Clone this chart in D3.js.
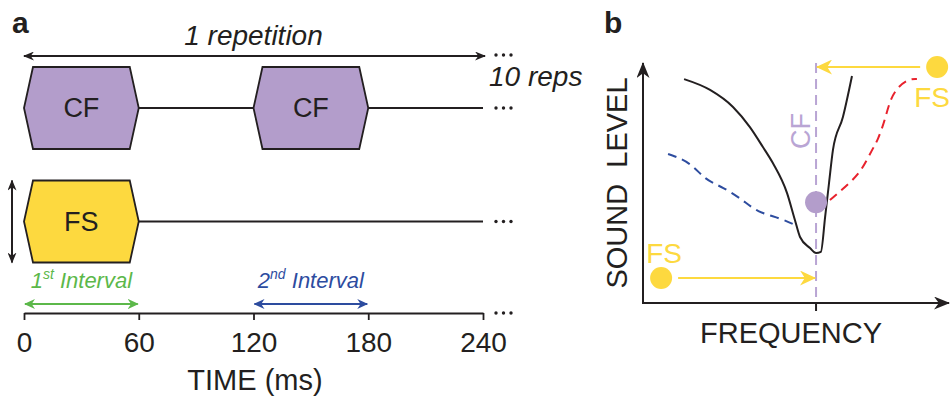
<!DOCTYPE html>
<html>
<head>
<meta charset="utf-8">
<script src="https://cdn.jsdelivr.net/npm/d3@7"></script>
<style>
    body { margin: 0; background: #fff; }
    text { font-family: "Liberation Sans", Arial, sans-serif; fill: #231f20; }
</style>
</head>
<body>
<svg id="chart" width="950" height="405"></svg>
<script>
// panel a: stimulus timing (ms)
let timeTicks = [0, 60, 120, 180, 240];
let cfOnsets = [0, 120];
let fsOnsets = [0];
let toneDuration = 60;
let repetitionSpan = [0, 240];
let intervals = [
    {num: "1", sup: "st", start: 0, end: 60},
    {num: "2", sup: "nd", start: 120, end: 180},
];

// panel b: frequency / sound level, arbitrary units 0-100
let cfFreq = 57.3;
let cfLevel = 42;
let tuningFreq = [13.6, 22.2, 29.8, 35.4, 39.7, 43.0, 47.7, 50.3, 52.0, 55.3, 57.3, 58.9, 60.3, 61.6, 62.9, 66.2, 69.2];
let tuningLevel = [93.3, 88.8, 81.7, 73.3, 65.0, 58.3, 45.8, 34.6, 27.5, 22.9, 20.8, 21.3, 35.8, 50.0, 63.8, 77.5, 94.6];
let lowSideFreq = [8.3, 15.6, 20.5, 26.5, 33.1, 37.7, 45.4, 51.0];
let lowSideLevel = [62.1, 58.8, 51.3, 48.3, 42.9, 37.9, 35.4, 32.1];
let highSideFreq = [61.9, 68.5, 72.5, 75.8, 77.8, 80.1, 81.8, 84.1, 87.7, 90.7];
let highSideLevel = [42.9, 50.0, 55.4, 63.8, 67.9, 76.3, 84.6, 89.6, 93.3, 93.3];
let fsFreq = [97.4, 6.0];
let fsLevel = [98.3, 10.4];

const colors = {
    ink: "#231f20",
    cf: "#b39dcb",
    cfLine: "#b9a5d4",
    fs: "#fdd93f",
    first: "#5cb84a",
    second: "#2d4c9f",
    red: "#e8222d",
};

let svg = d3.select("#chart");
let defs = svg.append("defs");

function marker(id, color, len, wid) {
    defs.append("marker")
        .attr("id", id)
        .attr("viewBox", "0 0 " + len + " " + wid)
        .attr("markerUnits", "userSpaceOnUse")
        .attr("markerWidth", len)
        .attr("markerHeight", wid)
        .attr("refX", len - 1)
        .attr("refY", wid / 2)
        .attr("orient", "auto-start-reverse")
        .append("path")
        .attr("d", "M0,0 L" + len + "," + wid / 2 + " L0," + wid + " L" + len * 0.3 + "," + wid / 2 + " Z")
        .attr("fill", color);
}
marker("arrSmall", colors.ink, 11, 9);
marker("arrGreen", colors.first, 11, 10);
marker("arrBlue", colors.second, 11, 10);
marker("arrAxis", colors.ink, 16, 13);
marker("arrYellow", colors.fs, 16, 15);

function arrow(g, x1, y1, x2, y2, color, id, both) {
    let l = g.append("line")
        .attr("x1", x1).attr("y1", y1)
        .attr("x2", x2).attr("y2", y2)
        .attr("stroke", color)
        .attr("stroke-width", 2)
        .attr("marker-end", "url(#" + id + ")");
    if (both) l.attr("marker-start", "url(#" + id + ")");
    return l;
}

// the "..." continuation marks, drawn as three small dots
function dots(g, x, y) {
    g.append("g").selectAll("circle")
        .data([0, 1, 2])
        .enter().append("circle")
        .attr("cx", d => x + d * 7.5)
        .attr("cy", y)
        .attr("r", 1.7)
        .attr("fill", colors.ink);
}

// ---------- panel a ----------
let a = svg.append("g");
let x = d3.scaleLinear().domain([0, 240]).range([24, 483]);
let rows = {rep: 56, CF: 108, FS: 221.5, interval: 304, axis: 313};
let halfH = 41;
let inset = 9;

a.append("text").attr("x", 12).attr("y", 33)
    .attr("font-size", 30).attr("font-weight", "bold").text("a");

arrow(a, x(repetitionSpan[0]), rows.rep, x(repetitionSpan[1]) + 2, rows.rep, colors.ink, "arrSmall", true);
a.append("text").attr("x", (x(0) + x(240)) / 2).attr("y", 45)
    .attr("text-anchor", "middle").attr("font-size", 28).attr("font-style", "italic")
    .text("1 repetition");
dots(a, 496, rows.rep - 1);
a.append("text").attr("x", 489).attr("y", 86)
    .attr("font-size", 28).attr("font-style", "italic").text("10 reps");

function hexagon(t, cy) {
    let x0 = x(t), x1 = x(t + toneDuration);
    return [[x0, cy], [x0 + inset, cy - halfH], [x1 - inset, cy - halfH],
            [x1, cy], [x1 - inset, cy + halfH], [x0 + inset, cy + halfH]];
}

let toneRows = [
    {name: "CF", onsets: cfOnsets, fill: colors.cf},
    {name: "FS", onsets: fsOnsets, fill: colors.fs},
];

for (let row of toneRows) {
    let cy = rows[row.name];
    a.append("line")
        .attr("x1", x(0)).attr("x2", x(240))
        .attr("y1", cy).attr("y2", cy)
        .attr("stroke", colors.ink).attr("stroke-width", 1.8);
    dots(a, 496, cy);

    let tones = a.selectAll("g.tone-" + row.name)
        .data(row.onsets)
        .enter().append("g");
    tones.append("polygon")
        .attr("points", d => hexagon(d, cy).join(" "))
        .attr("fill", row.fill)
        .attr("stroke", colors.ink)
        .attr("stroke-width", 1.8);
    tones.append("text")
        .attr("x", d => x(d + toneDuration / 2))
        .attr("y", cy + 9)
        .attr("text-anchor", "middle")
        .attr("font-size", 27)
        .text(row.name);
}

// level arrow beside FS tone
arrow(a, 12, rows.FS - halfH, 12, rows.FS + halfH, colors.ink, "arrSmall", true);

// intervals
let ivColors = [colors.first, colors.second];
let ivMarkers = ["arrGreen", "arrBlue"];
intervals.forEach((iv, i) => {
    arrow(a, x(iv.start) + 1, rows.interval, x(iv.end) - 1, rows.interval, ivColors[i], ivMarkers[i], true);
    let t = a.append("text")
        .attr("x", (x(iv.start) + x(iv.end)) / 2)
        .attr("y", 288)
        .attr("text-anchor", "middle")
        .attr("font-size", 22)
        .attr("font-style", "italic")
        .style("fill", ivColors[i]);
    t.append("tspan").text(iv.num);
    t.append("tspan").attr("dy", -9).attr("font-size", 14).text(iv.sup);
    t.append("tspan").attr("dy", 9).text(" Interval");
});

// time axis
let axis = a.append("g")
    .attr("transform", "translate(0," + rows.axis + ")")
    .call(d3.axisBottom(x).tickValues(timeTicks).tickSize(7).tickSizeOuter(0).tickPadding(12));
axis.selectAll("path, line").attr("stroke", colors.ink).attr("stroke-width", 1.8);
axis.selectAll("text")
    .attr("font-size", 28)
    .attr("font-family", "Liberation Sans, Arial, sans-serif")
    .style("fill", colors.ink);
dots(a, 496, rows.axis);
a.append("text").attr("x", 255).attr("y", 390)
    .attr("text-anchor", "middle").attr("font-size", 29).text("TIME (ms)");

// ---------- panel b ----------
let b = svg.append("g");
let fx = d3.scaleLinear().domain([0, 100]).range([643, 945]);
let ly = d3.scaleLinear().domain([0, 100]).range([303, 63]);

b.append("text").attr("x", 604).attr("y", 33)
    .attr("font-size", 30).attr("font-weight", "bold").text("b");

arrow(b, fx(0), ly(0) + 1, fx(0), ly(100), colors.ink, "arrAxis", false);
arrow(b, fx(0) - 1, ly(0), fx(100) + 4, ly(0), colors.ink, "arrAxis", false);
b.append("line")
    .attr("x1", fx(cfFreq)).attr("x2", fx(cfFreq))
    .attr("y1", ly(0)).attr("y2", ly(0) + 8)
    .attr("stroke", colors.ink).attr("stroke-width", 2);

b.append("text")
    .attr("transform", "translate(627," + (ly(0) + ly(100)) / 2 + ") rotate(-90)")
    .attr("text-anchor", "middle").attr("font-size", 29)
    .attr("xml:space", "preserve")
    .text("SOUND  LEVEL");
b.append("text").attr("x", fx(cfFreq) - 25).attr("y", 343)
    .attr("text-anchor", "middle").attr("font-size", 29).text("FREQUENCY");

// CF marker line
b.append("line")
    .attr("x1", fx(cfFreq)).attr("x2", fx(cfFreq))
    .attr("y1", ly(100)).attr("y2", ly(0))
    .attr("stroke", colors.cfLine).attr("stroke-width", 2)
    .attr("stroke-dasharray", "10,6");
b.append("text")
    .attr("transform", "translate(" + (fx(cfFreq) - 6) + ",131) rotate(-90)")
    .attr("text-anchor", "middle").attr("font-size", 27)
    .style("fill", colors.cfLine).text("CF");

let smoothLine = d3.line()
    .x(d => fx(d[0]))
    .y(d => ly(d[1]))
    .curve(d3.curveBasis);
let tuningLine = d3.line()
    .x(d => fx(d[0]))
    .y(d => ly(d[1]))
    .curve(d3.curveMonotoneX);

let curves = [
    {f: lowSideFreq, l: lowSideLevel, color: colors.second, dash: "9,6", gen: smoothLine},
    {f: highSideFreq, l: highSideLevel, color: colors.red, dash: "9,6", gen: smoothLine},
    {f: tuningFreq, l: tuningLevel, color: colors.ink, dash: null, gen: tuningLine},
];
b.selectAll("path.curve")
    .data(curves)
    .enter().append("path")
    .attr("class", "curve")
    .attr("fill", "none")
    .attr("stroke", d => d.color)
    .attr("stroke-width", 2)
    .attr("stroke-dasharray", d => d.dash)
    .attr("d", d => d.gen(d.f.map((v, i) => [v, d.l[i]])));

b.append("circle")
    .attr("cx", fx(cfFreq)).attr("cy", ly(cfLevel)).attr("r", 11)
    .attr("fill", colors.cf);

// flanking suppressors, arrows toward CF
fsFreq.forEach((f, i) => {
    let cx = fx(f), cy = ly(fsLevel[i]);
    let dir = cx > fx(cfFreq) ? -1 : 1;
    arrow(b, cx + dir * 17, cy, fx(cfFreq) - dir, cy, colors.fs, "arrYellow", false);
    b.append("circle").attr("cx", cx).attr("cy", cy).attr("r", 11).attr("fill", colors.fs);
    b.append("text")
        .attr("x", cx + (dir < 0 ? -5 : 3))
        .attr("y", dir < 0 ? cy + 40 : cy - 15)
        .attr("text-anchor", "middle")
        .attr("font-size", 28)
        .style("fill", colors.fs)
        .text("FS");
});
</script>
</body>
</html>
